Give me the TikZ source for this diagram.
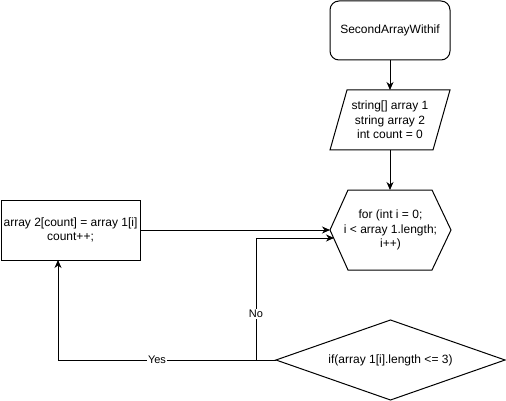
\documentclass[tikz,border=0pt]{standalone}
\usepackage{fontspec}
\setmainfont{Liberation Sans}
\usetikzlibrary{arrows.meta}
\begin{document}
\begin{tikzpicture}[x=1pt,y=-1pt,
  shapeline/.style={draw=black,line width=1pt,fill=white},
  lbl/.style={font=\fontsize{12}{14.5}\selectfont,align=center,inner sep=0pt},
  arr/.style={draw=black,line width=1pt,-{Stealth[length=8pt,width=7pt,inset=2.5pt]}},
  edgelbl/.style={fill=white,font=\fontsize{11}{13}\selectfont,inner sep=1pt}]
\useasboundingbox (0,0) rectangle (506,401);
% start
\node[draw,line width=1pt,rounded corners=9pt,minimum width=120pt,minimum height=59pt,lbl] (start) at (390,30.5) {SecondArrayWithif};
% input parallelogram
\draw[shapeline] (347,90) -- (450,90) -- (433,150) -- (330,150) -- cycle;
\node[lbl] (input) at (390,120) {string[] array 1\\string array 2\\int count = 0};
\coordinate (inTop) at (390,90);
\coordinate (inBot) at (390,150);
% loop hexagon
\draw[shapeline] (330,230) -- (348,190) -- (432,190) -- (451,230) -- (432,270) -- (348,270) -- cycle;
\node[lbl] (loop) at (390.5,230) {for (int i = 0;\\i < array 1.length;\\i++)};
\coordinate (hexTop) at (390,190);
\coordinate (hexL) at (330,230);
\coordinate (hexIn) at (334,238);
% body rectangle
\node[draw,line width=1pt,minimum width=139pt,minimum height=60pt,lbl] (body) at (70.5,230) {array 2[count] = array 1[i]\\count++;};
\coordinate (bodyIn) at (58,260);
% condition diamond
\draw[shapeline] (276,360) -- (390.5,320) -- (505,360) -- (390.5,400) -- cycle;
\node[lbl] (cond) at (390.5,360) {if(array 1[i].length <= 3)};
\coordinate (condL) at (276,360);
\coordinate (noBend) at (256,238);
% connectors
\draw[arr] (start.south) -- (inTop);
\draw[arr] (inBot) -- (hexTop);
\draw[arr] (body.east) -- (hexL);
\draw[arr] (condL) -| (noBend) -- (hexIn);
\draw[arr] (condL) -| (bodyIn);
\node[edgelbl] (nolbl) at (256,314) {No};
\node[edgelbl] (yeslbl) at (157,360) {Yes};
\end{tikzpicture}
\end{document}
